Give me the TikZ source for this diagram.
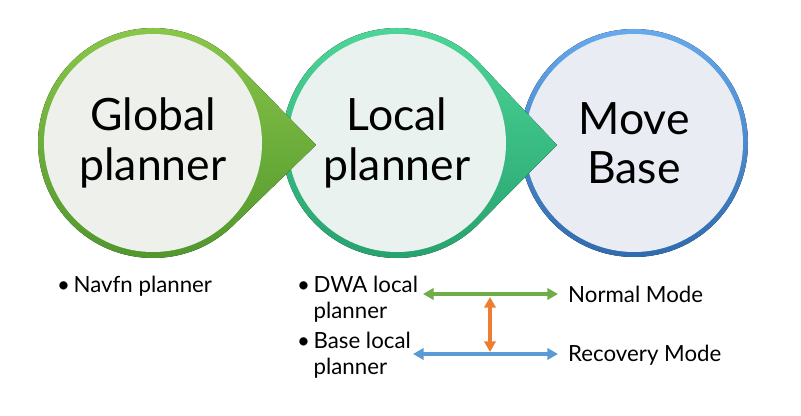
\documentclass[tikz,border=0pt]{standalone}
\usepackage{fontspec}
\setmainfont{Lato}
\usetikzlibrary{arrows.meta,positioning,calc}
\definecolor{RingGreenLight}{HTML}{8CC84B}
\definecolor{RingGreenDark}{HTML}{4E952B}
\definecolor{RingTealLight}{HTML}{4FD89A}
\definecolor{RingTealDark}{HTML}{24A06C}
\definecolor{RingBlueLight}{HTML}{66A9EC}
\definecolor{RingBlueDark}{HTML}{2F6BAE}
\definecolor{FaceGreen}{HTML}{EEF1EB}
\definecolor{FaceTeal}{HTML}{E9F2EE}
\definecolor{FaceBlue}{HTML}{E9EDF3}
\definecolor{ModeGreen}{HTML}{70AD47}
\definecolor{ModeBlue}{HTML}{5B9BD5}
\definecolor{ModeOrange}{HTML}{ED7D31}
\newcommand{\itembul}{\makebox[14pt][l]{\textbullet}}

\begin{document}
\begin{tikzpicture}[x=0.03cm, y=0.03cm,
  ring/.style={draw=none, top color=#1Light, bottom color=#1Dark},
  face/.style={circle, minimum size=6.54cm, inner sep=0pt, align=center,
    font=\fontsize{38}{42}\selectfont},
  point/.style={inner sep=0pt, anchor=base west, font=\fontsize{19}{22}\selectfont},
  modeflow/.style={{Triangle[length=3.2mm,width=3.4mm]}-{Triangle[length=3.2mm,width=3.4mm]}, line width=3.3pt}
]
\useasboundingbox (0,0) rectangle (801,416);
\coordinate (gc) at (153,273);
\coordinate (lc) at (397,273);
\coordinate (mc) at (634,273);
\fill[ring=RingBlue] (mc) circle[radius=3.42cm];
\node[face, fill=FaceBlue] (movebase) at (mc) {Move\\Base};
\fill[ring=RingTeal] (557,271) -- ($(lc)+(45:3.45cm)$) arc[start angle=45, end angle=315, radius=3.45cm] -- cycle;
\node[face, fill=FaceTeal] (local) at (lc) {Local\\planner};
\fill[ring=RingGreen] (316,271) -- ($(gc)+(45:3.45cm)$) arc[start angle=45, end angle=315, radius=3.45cm] -- cycle;
\node[face, fill=FaceGreen] (global) at (gc) {Global\\planner};
\node[point] (navfn) at (57,123) {\itembul Navfn planner};
\node[point] (dwa) at (297,123) {\begin{tabular}[t]{@{}l@{}l@{}}\itembul&DWA local\\&planner\end{tabular}};
\node[point] (baselocal) at (297,67) {\begin{tabular}[t]{@{}l@{}l@{}}\itembul&Base local\\&planner\end{tabular}};
\node[point] (normal) at (568,113) {Normal Mode};
\node[point] (recovery) at (568,54) {Recovery Mode};
\coordinate (greenstart) at (423,122);
\coordinate (bluestart) at (413,62);
\coordinate (switchtop) at (490,119);
\coordinate (switchbot) at (490,64);
\draw[modeflow, ModeGreen, shorten >=0.3cm] (greenstart) -- (greenstart -| normal.west);
\draw[modeflow, ModeBlue, shorten >=0.3cm] (bluestart) -- (bluestart -| recovery.west);
\draw[modeflow, ModeOrange] (switchtop) -- (switchbot);
\end{tikzpicture}
\end{document}
